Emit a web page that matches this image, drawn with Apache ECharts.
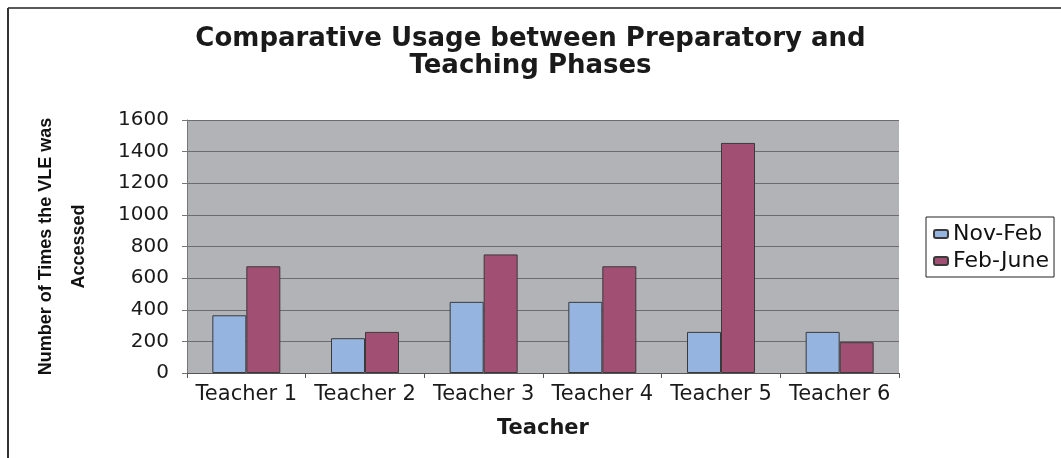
<!DOCTYPE html>
<html>
<head>
<meta charset="utf-8">
<script src="https://cdn.jsdelivr.net/npm/echarts@6/dist/echarts.min.js"></script>
<style>
  html, body { margin: 0; padding: 0; background: #fff; }
  #chart { width: 1061px; height: 458px; }
</style>
</head>
<body>
<div id="chart"></div>
<script>
// values
const teachers = ['Teacher 1', 'Teacher 2', 'Teacher 3', 'Teacher 4', 'Teacher 5', 'Teacher 6'];
const novFeb = [365, 220, 450, 450, 260, 260];
const febJune = [675, 260, 750, 675, 1455, 195];
const seriesNames = ['Nov-Feb', 'Feb-June'];

const chart = echarts.init(document.getElementById('chart'));

const option = {
    backgroundColor: '#fff',
    animation: false,
    title: {
        text: 'Comparative Usage between Preparatory and\nTeaching Phases',
        left: 'center',
        top: 21,
        textStyle: {
            fontFamily: 'DejaVu Sans',
            fontWeight: 'bold',
            fontSize: 26,
            lineHeight: 27,
            color: '#1a1a1a'
        }
    },
    graphic: [
        {type: 'line', shape: {x1: 8, y1: 8, x2: 1061, y2: 8}, style: {stroke: '#222', lineWidth: 1.5}},
        {type: 'line', shape: {x1: 8, y1: 8, x2: 8, y2: 458}, style: {stroke: '#333', lineWidth: 2}}
    ],
    legend: {
        orient: 'vertical',
        left: 926,
        top: 217,
        data: seriesNames,
        itemWidth: 14,
        itemHeight: 8,
        itemGap: 5,
        itemTextGap: 13,
        padding: [6, 5, 5, 7],
        borderColor: '#222',
        borderWidth: 1,
        textStyle: {
            fontFamily: 'DejaVu Sans',
            fontSize: 22,
            color: '#111'
        }
    },
    grid: {
        left: 187,
        top: 120,
        width: 712,
        height: 253,
        show: true,
        backgroundColor: '#b2b3b7',
        borderWidth: 0
    },
    xAxis: {
        type: 'category',
        data: teachers,
        name: 'Teacher',
        nameLocation: 'middle',
        nameGap: 45,
        nameTextStyle: {
            fontFamily: 'DejaVu Sans',
            fontWeight: 'bold',
            fontSize: 21,
            color: '#1a1a1a'
        },
        axisLine: {lineStyle: {color: '#555', width: 1}},
        axisTick: {show: true, length: 5, lineStyle: {color: '#555'}},
        axisLabel: {
            margin: 11,
            fontFamily: 'DejaVu Sans',
            fontSize: 21,
            color: '#1a1a1a',
            interval: 0
        }
    },
    yAxis: {
        type: 'value',
        min: 0,
        max: 1600,
        interval: 200,
        name: 'Number of Times the VLE was\nAccessed',
        nameLocation: 'middle',
        nameRotate: 90,
        nameGap: 91,
        nameTextStyle: {
            fontFamily: 'Liberation Sans',
            fontWeight: 'bold',
            fontSize: 18,
            lineHeight: 33,
            color: '#111'
        },
        axisLine: {show: true, lineStyle: {color: '#777', width: 1}},
        axisTick: {show: true, length: 5, lineStyle: {color: '#777'}},
        axisLabel: {
            margin: 18,
            fontFamily: 'DejaVu Sans',
            fontSize: 20,
            color: '#1a1a1a',
            formatter: v => String(v)
        },
        splitLine: {lineStyle: {color: '#6c6c6c', width: 1}}
    },
    series: [
        {
            name: seriesNames[0],
            type: 'bar',
            data: novFeb,
            barWidth: 34,
            barGap: '0%',
            itemStyle: {color: '#95b5e0', borderColor: '#3a3a3a', borderWidth: 1}
        },
        {
            name: seriesNames[1],
            type: 'bar',
            data: febJune,
            barWidth: 34,
            barGap: '0%',
            itemStyle: {color: '#a14f72', borderColor: '#3a3a3a', borderWidth: 1}
        }
    ]
};

chart.setOption(option);
</script>
</body>
</html>
